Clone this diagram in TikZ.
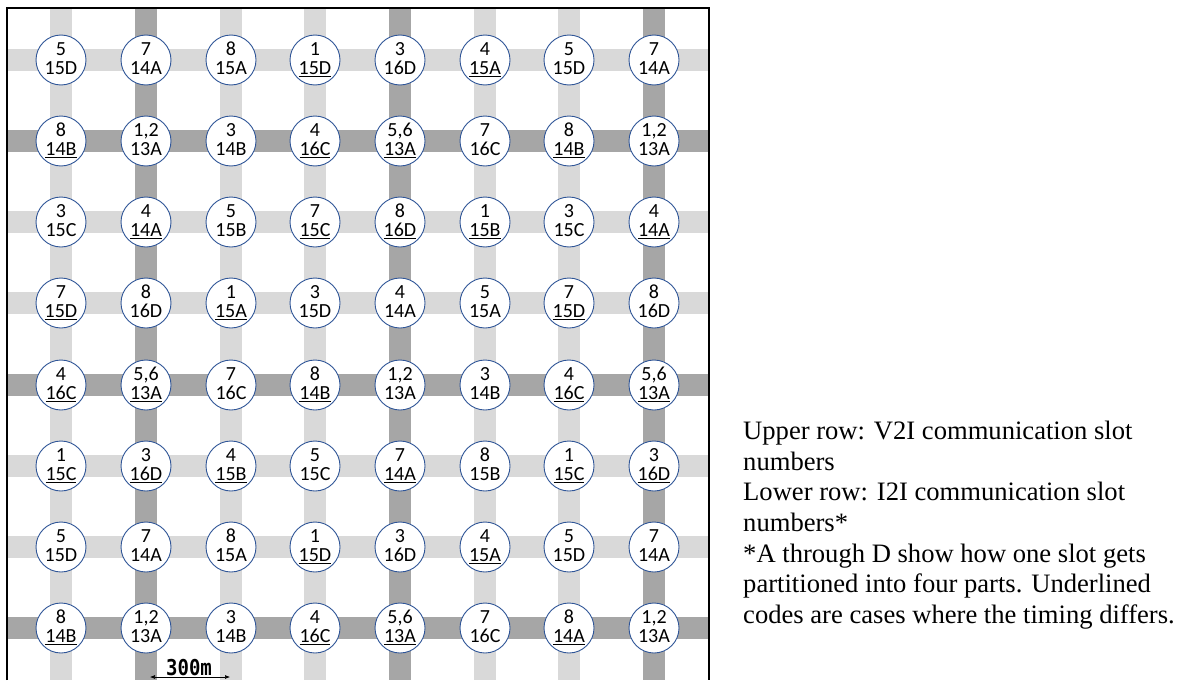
\documentclass[tikz,border=0pt]{standalone}
\usepackage{fontspec}
\setmainfont{Liberation Serif}
\newfontfamily\calfont{Carlito}
\newfontfamily\meterfont{DejaVu Sans Mono}
\usepackage{tikz}
\usetikzlibrary{arrows.meta}

\definecolor{lightroad}{HTML}{D9D9D9}
\definecolor{darkroad}{HTML}{A6A6A6}
\definecolor{slotblue}{HTML}{2F5597}

\begin{document}
\begin{tikzpicture}[x=1pt,y=-1pt,
    every circle node/.style={draw=slotblue,fill=white,line width=0.9pt,minimum size=50pt,inner sep=0pt,align=center,text depth=3pt,font=\calfont\fontsize{20}{19}\selectfont},
    minor/.style={lightroad,line width=22pt},
    major/.style={darkroad,line width=22pt}]
    \useasboundingbox (0,0) rectangle (1183,680);
    % roads
    \draw[minor] (61,9) -- (61,680);
    \draw[major] (146,9) -- (146,680);
    \draw[minor] (231,9) -- (231,680);
    \draw[minor] (315,9) -- (315,680);
    \draw[major] (400,9) -- (400,680);
    \draw[minor] (485,9) -- (485,680);
    \draw[minor] (569,9) -- (569,680);
    \draw[major] (654,9) -- (654,680);
    \draw[minor] (8,60) -- (708,60);
    \draw[major] (8,141) -- (708,141);
    \draw[minor] (8,222) -- (708,222);
    \draw[minor] (8,303) -- (708,303);
    \draw[major] (8,385) -- (708,385);
    \draw[minor] (8,466) -- (708,466);
    \draw[minor] (8,547) -- (708,547);
    \draw[major] (8,628) -- (708,628);
    \draw[line width=2pt] (7,680) -- (7,8) -- (709,8) -- (709,680);
    % intersections
    \node[circle] (11) at (61,60) {5\\15D};
    \node[circle] (12) at (146,60) {7\\14A};
    \node[circle] (13) at (231,60) {8\\15A};
    \node[circle] (14) at (315,60) {1\\\underline{15D}};
    \node[circle] (15) at (400,60) {3\\16D};
    \node[circle] (16) at (485,60) {4\\\underline{15A}};
    \node[circle] (17) at (569,60) {5\\15D};
    \node[circle] (18) at (654,60) {7\\14A};
    \node[circle] (21) at (61,141) {8\\\underline{14B}};
    \node[circle] (22) at (146,141) {1,2\\13A};
    \node[circle] (23) at (231,141) {3\\14B};
    \node[circle] (24) at (315,141) {4\\\underline{16C}};
    \node[circle] (25) at (400,141) {5,6\\\underline{13A}};
    \node[circle] (26) at (485,141) {7\\16C};
    \node[circle] (27) at (569,141) {8\\\underline{14B}};
    \node[circle] (28) at (654,141) {1,2\\13A};
    \node[circle] (31) at (61,222) {3\\15C};
    \node[circle] (32) at (146,222) {4\\\underline{14A}};
    \node[circle] (33) at (231,222) {5\\15B};
    \node[circle] (34) at (315,222) {7\\\underline{15C}};
    \node[circle] (35) at (400,222) {8\\\underline{16D}};
    \node[circle] (36) at (485,222) {1\\\underline{15B}};
    \node[circle] (37) at (569,222) {3\\15C};
    \node[circle] (38) at (654,222) {4\\\underline{14A}};
    \node[circle] (41) at (61,303) {7\\\underline{15D}};
    \node[circle] (42) at (146,303) {8\\16D};
    \node[circle] (43) at (231,303) {1\\\underline{15A}};
    \node[circle] (44) at (315,303) {3\\15D};
    \node[circle] (45) at (400,303) {4\\14A};
    \node[circle] (46) at (485,303) {5\\15A};
    \node[circle] (47) at (569,303) {7\\\underline{15D}};
    \node[circle] (48) at (654,303) {8\\16D};
    \node[circle] (51) at (61,385) {4\\\underline{16C}};
    \node[circle] (52) at (146,385) {5,6\\\underline{13A}};
    \node[circle] (53) at (231,385) {7\\16C};
    \node[circle] (54) at (315,385) {8\\\underline{14B}};
    \node[circle] (55) at (400,385) {1,2\\13A};
    \node[circle] (56) at (485,385) {3\\14B};
    \node[circle] (57) at (569,385) {4\\\underline{16C}};
    \node[circle] (58) at (654,385) {5,6\\\underline{13A}};
    \node[circle] (61) at (61,466) {1\\\underline{15C}};
    \node[circle] (62) at (146,466) {3\\\underline{16D}};
    \node[circle] (63) at (231,466) {4\\\underline{15B}};
    \node[circle] (64) at (315,466) {5\\15C};
    \node[circle] (65) at (400,466) {7\\\underline{14A}};
    \node[circle] (66) at (485,466) {8\\15B};
    \node[circle] (67) at (569,466) {1\\\underline{15C}};
    \node[circle] (68) at (654,466) {3\\\underline{16D}};
    \node[circle] (71) at (61,547) {5\\15D};
    \node[circle] (72) at (146,547) {7\\14A};
    \node[circle] (73) at (231,547) {8\\15A};
    \node[circle] (74) at (315,547) {1\\\underline{15D}};
    \node[circle] (75) at (400,547) {3\\16D};
    \node[circle] (76) at (485,547) {4\\\underline{15A}};
    \node[circle] (77) at (569,547) {5\\15D};
    \node[circle] (78) at (654,547) {7\\14A};
    \node[circle] (81) at (61,628) {8\\\underline{14B}};
    \node[circle] (82) at (146,628) {1,2\\13A};
    \node[circle] (83) at (231,628) {3\\14B};
    \node[circle] (84) at (315,628) {4\\\underline{16C}};
    \node[circle] (85) at (400,628) {5,6\\\underline{13A}};
    \node[circle] (86) at (485,628) {7\\16C};
    \node[circle] (87) at (569,628) {8\\\underline{14A}};
    \node[circle] (88) at (654,628) {1,2\\13A};
    % scale
    \coordinate (sl) at (150,677);
    \coordinate (sr) at (230,677);
    \draw[{Latex[length=5pt,width=4pt]}-{Latex[length=5pt,width=4pt]},line width=0.6pt] (sl) -- (sr);
    \node[font=\meterfont\bfseries\fontsize{19}{19}\selectfont,yscale=1.15,inner sep=0pt] (dist) at (189,668) {300m};
    % legend
    \node[anchor=north west,align=left,inner sep=0pt,font=\fontsize{26.6}{30.6}\selectfont] (note) at (743,421)
        {Upper row: V2I communication slot\\numbers\\Lower row: I2I communication slot\\numbers*\\*A through D show how one slot gets\\partitioned into four parts. Underlined\\codes are cases where the timing differs.};
\end{tikzpicture}
\end{document}
